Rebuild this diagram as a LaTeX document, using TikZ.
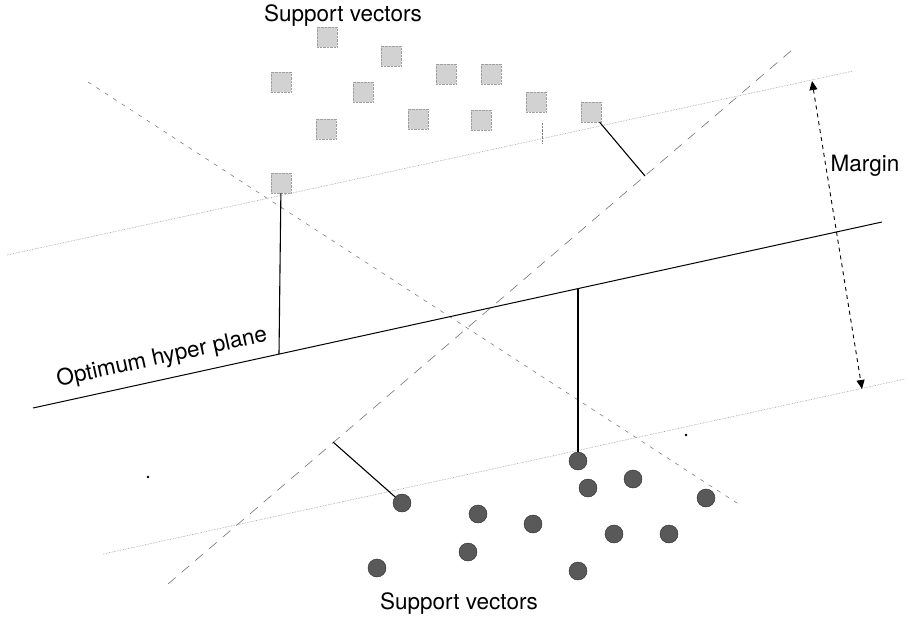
\documentclass[tikz,border=0pt]{standalone}
\usepackage{fontspec}
\setmainfont{TeX Gyre Heros}
\usetikzlibrary{calc}
\usetikzlibrary{arrows.meta}

\tikzset{
  sqvec/.style={draw=gray!75, densely dotted, fill=gray!35, minimum size=20pt, inner sep=0pt},
  cvec/.style={circle, draw=black!85, fill=black!65, minimum size=18pt, inner sep=0pt},
  margline/.style={gray!80, densely dotted, line width=0.6pt},
  sline/.style={black, line width=1.1pt},
  lbl/.style={font=\fontsize{22.5}{27}\selectfont}
}

\begin{document}
\begin{tikzpicture}[x=1pt,y=-1pt]
            \useasboundingbox (0,0) rectangle (909,623);
            \coordinate (uL) at (7,255);
            \coordinate (uR) at (853,71);
            \coordinate (hL) at (33,408);
            \coordinate (hR) at (882,222);
            \coordinate (lL) at (103,554);
            \coordinate (lR) at (905,379);
            \coordinate (dA) at (88,82);
            \coordinate (dB) at (740,505);
            \coordinate (eA) at (168,584);
            \coordinate (eB) at (792,50);
            \coordinate (mT) at (812,81);
            \coordinate (mB) at (862,389);
            \draw[margline] (uL) -- (uR);
            \draw[margline] (lL) -- (lR);
            \draw[gray, dash pattern=on 4pt off 6pt, line width=0.6pt] (dA) -- (dB);
            \draw[gray!90!black, dash pattern=on 10pt off 8pt, line width=0.6pt] (eA) -- (eB);
            \draw[line width=1pt] (hL) -- (hR);
            \draw[dashed, dash pattern=on 4pt off 4pt, line width=0.9pt, {Triangle[length=9pt,width=8pt]}-{Triangle[length=9pt,width=8pt]}] (mT) -- (mB);
            % squares
            \foreach \x/\y [count=\i] in {327/37,391/56,281/82,363/92,446/74,491/74,326/129,418/119,481/120,536/102,591/112,281/183}
              \node[sqvec] (s\i) at (\x,\y) {};
            % circles
            \foreach \x/\y [count=\i] in {578/461,588/488,633/479,706/498,402/503,478/514,533/524,614/534,669/534,468/552,377/568,578/571}
              \node[cvec] (c\i) at (\x,\y) {};
            \coordinate (hf1) at (279,354);
            \coordinate (hf2) at (578,289);
            \coordinate (p2) at (645,176);
            \coordinate (p3) at (333,442);
            \draw[sline] (s12) -- (hf1);
            \draw[sline] (s11) -- (p2);
            \draw[sline] (c5) -- (p3);
            \draw[sline] (c1) -- (hf2);
            \coordinate (tk1) at (542,123);
            \coordinate (tk2) at (542,143);
            \draw[gray, densely dotted] (tk1) -- (tk2);
            \coordinate (k1) at (148,477);
            \coordinate (k2) at (686,435);
            \draw[fill=black] (k1) circle (1.2);
            \draw[fill=black] (k2) circle (1);
            \node[lbl] (top) at (343,16) {Support vectors};
            \node[lbl] (bot) at (459,604) {Support vectors};
            \node[lbl] (mrg) at (865,166) {Margin};
            \node[lbl, rotate=12.3] (opt) at (162,358) {Optimum hyper plane};
        \end{tikzpicture}
\end{document}
